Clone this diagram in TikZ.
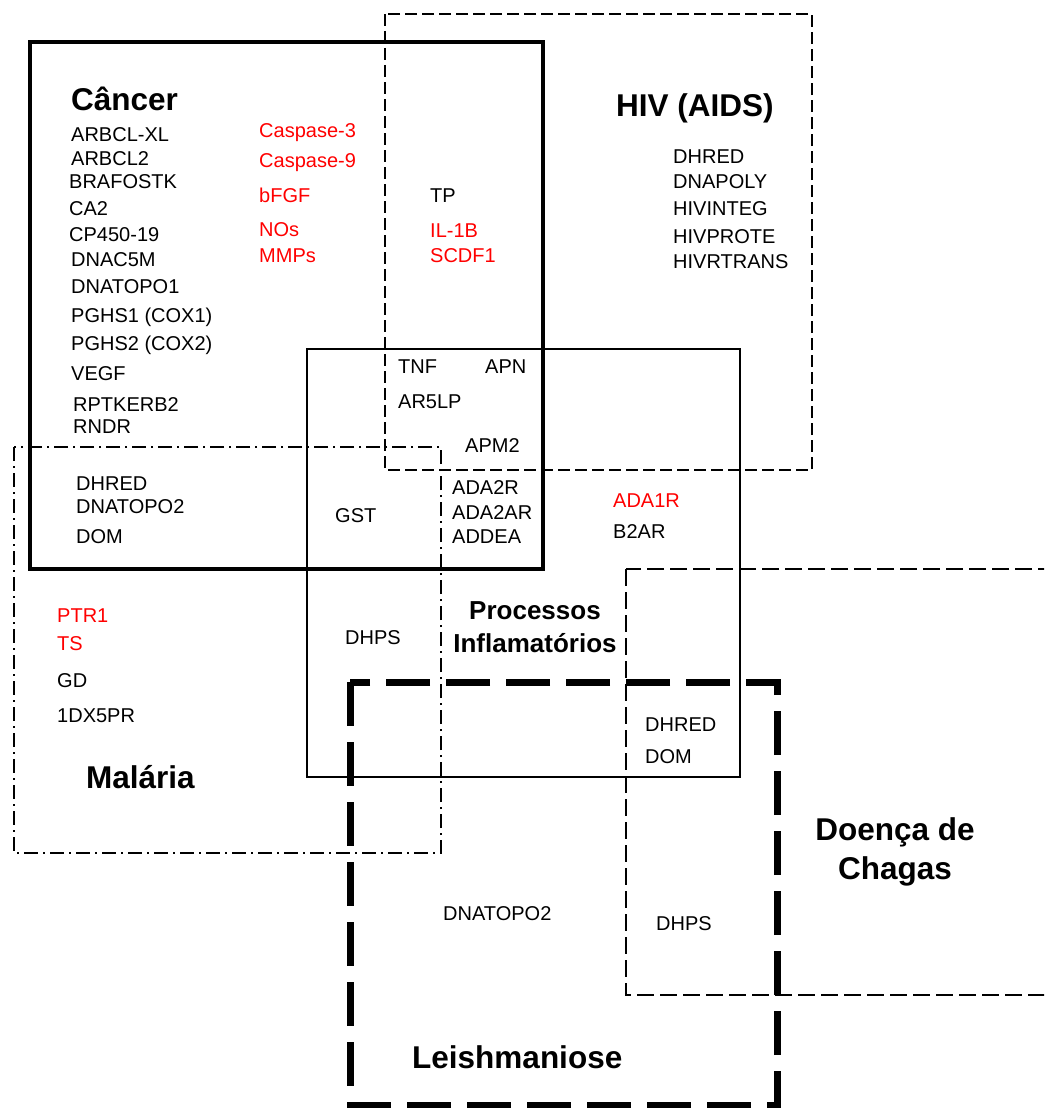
\documentclass[tikz,border=0pt]{standalone}
\usepackage{fontspec}
\setmainfont{Liberation Sans}
\begin{document}
\begin{tikzpicture}[x=1pt,y=-1pt,
  lbl/.style={anchor=base west,inner sep=0pt,font=\fontsize{20}{24}\selectfont},
  redlbl/.style={lbl,text=red},
  ttl/.style={anchor=base west,inner sep=0pt,font=\fontsize{31.5}{36}\selectfont\bfseries},
  ttlc/.style={ttl,anchor=base},
  proc/.style={anchor=base,inner sep=0pt,font=\fontsize{26}{30}\selectfont\bfseries},
  cancerbox/.style={line width=4pt},
  hivbox/.style={line width=2.5pt,dash pattern=on 12pt off 5pt},
  procbox/.style={line width=2pt},
  malbox/.style={line width=2pt,dash pattern=on 14pt off 5pt on 2pt off 5pt},
  chagbox/.style={line width=2.5pt,dash pattern=on 17pt off 6pt},
  leishbox/.style={line width=7pt,dash pattern=on 44pt off 16pt}
]
\useasboundingbox (0,0) rectangle (1044,1108);
\clip (0,0) rectangle (1044,1108);
\fill[white] (0,0) rectangle (1044,1108);

% boxes
\draw[hivbox] (385,14) rectangle (812,470);
\draw[malbox] (14,447) rectangle (441,853);
\draw[chagbox] (626,569) rectangle (1070,995);
\draw[procbox] (307,349) rectangle (740,777);
\draw[cancerbox] (30,42) rectangle (543,569);
\draw[leishbox] (350,682) rectangle (777,1105);

% Cancer
\node[ttl] (tcancer) at (71,110) {Câncer};
\node[lbl] (c1) at (71,141) {ARBCL-XL};
\node[lbl] (c2) at (71,165) {ARBCL2};
\node[lbl] (c3) at (69,188) {BRAFOSTK};
\node[lbl] (c4) at (69,215) {CA2};
\node[lbl] (c5) at (69,241) {CP450-19};
\node[lbl] (c6) at (71,266) {DNAC5M};
\node[lbl] (c7) at (71,293) {DNATOPO1};
\node[lbl] (c8) at (71,322) {PGHS1 (COX1)};
\node[lbl] (c9) at (71,350) {PGHS2 (COX2)};
\node[lbl] (c10) at (71,380) {VEGF};
\node[lbl] (c11) at (73,411) {RPTKERB2};
\node[lbl] (c12) at (73,433) {RNDR};
\node[lbl] (c13) at (76,490) {DHRED};
\node[lbl] (c14) at (76,513) {DNATOPO2};
\node[lbl] (c15) at (76,543) {DOM};

\node[redlbl] (r1) at (259,137) {Caspase-3};
\node[redlbl] (r2) at (259,167) {Caspase-9};
\node[redlbl] (r3) at (259,202) {bFGF};
\node[redlbl] (r4) at (259,236) {NOs};
\node[redlbl] (r5) at (259,262) {MMPs};

\node[lbl] (tp) at (430,202) {TP};
\node[redlbl] (il) at (430,237) {IL-1B};
\node[redlbl] (scdf) at (430,262) {SCDF1};

% HIV
\node[ttl] (thiv) at (616,116) {HIV (AIDS)};
\node[lbl] (h1) at (673,163) {DHRED};
\node[lbl] (h2) at (673,188) {DNAPOLY};
\node[lbl] (h3) at (673,215) {HIVINTEG};
\node[lbl] (h4) at (673,243) {HIVPROTE};
\node[lbl] (h5) at (673,268) {HIVRTRANS};

% Processos
\node[lbl] (tnf) at (398,373) {TNF};
\node[lbl] (apn) at (485,373) {APN};
\node[lbl] (ar5) at (398,408) {AR5LP};
\node[lbl] (apm) at (465,452) {APM2};
\node[lbl] (gst) at (335,522) {GST};
\node[lbl] (ada2r) at (452,494) {ADA2R};
\node[lbl] (ada2ar) at (452,519) {ADA2AR};
\node[lbl] (addea) at (452,543) {ADDEA};
\node[redlbl] (ada1r) at (613,507) {ADA1R};
\node[lbl] (b2ar) at (613,538) {B2AR};
\node[proc] (tproc1) at (535,619) {Processos};
\node[proc] (tproc2) at (535,652) {Inflamatórios};
\node[lbl] (dhps1) at (345,644) {DHPS};
\node[lbl] (pdh) at (645,731) {DHRED};
\node[lbl] (pdom) at (645,763) {DOM};

% Malaria
\node[redlbl] (m1) at (57,622) {PTR1};
\node[redlbl] (m2) at (57,650) {TS};
\node[lbl] (m3) at (57,687) {GD};
\node[lbl] (m4) at (57,722) {1DX5PR};
\node[ttl] (tmal) at (86,788) {Malária};

% Chagas
\node[ttlc] (tchag1) at (895,840) {Doença de};
\node[ttlc] (tchag2) at (895,879) {Chagas};
\node[lbl] (chps) at (656,930) {DHPS};

% Leishmaniose
\node[lbl] (ltopo) at (443,920) {DNATOPO2};
\node[ttl] (tleish) at (412,1068) {Leishmaniose};
\end{tikzpicture}
\end{document}
